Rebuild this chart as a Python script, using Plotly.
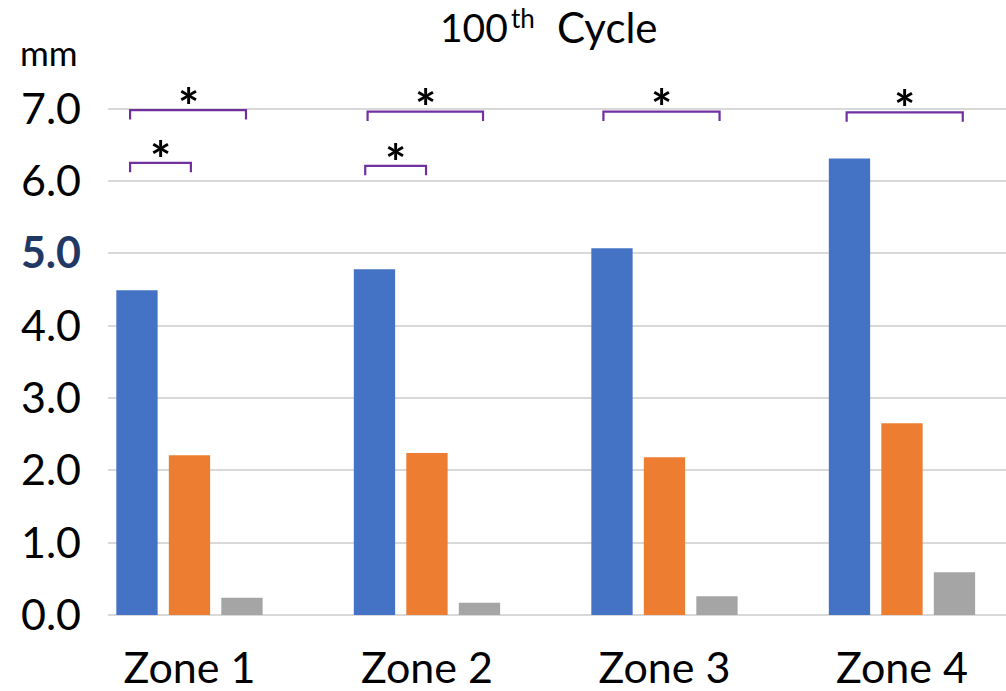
import plotly.graph_objects as go

zones = ["Zone 1", "Zone 2", "Zone 3", "Zone 4"]
series_a = [4.49, 4.78, 5.07, 6.31]   # blue
series_b = [2.21, 2.24, 2.18, 2.65]   # orange
series_c = [0.24, 0.17, 0.26, 0.59]   # gray
y_ticks = [0, 1, 2, 3, 4, 5, 6, 7]
y_ticktext = ["0.0", "1.0", "2.0", "3.0", "4.0",
              "<b><span style='color:#1F3864'>5.0</span></b>", "6.0", "7.0"]

# significance brackets: zone index, left offset, right offset, level (mm)
br_zone = [0, 0, 1, 1, 2, 3]
br_x0 = [-0.25, -0.25, -0.25, -0.26, -0.257, -0.233]
br_x1 = [0.238, 0.006, 0.236, -0.004, 0.232, 0.256]
br_y = [6.98, 6.25, 6.96, 6.21, 6.96, 6.95]
br_label = ["*", "*", "*", "*", "*", "*"]

title_main = "100"
title_sup = "th"
title_rest = "Cycle"

xs = list(range(len(zones)))
colors = ["#4472C4", "#ED7D31", "#A5A5A5"]

fig = go.Figure()
for vals, col in zip([series_a, series_b, series_c], colors):
    fig.add_trace(go.Bar(x=xs, y=vals, marker=dict(color=col, line=dict(width=0)),
                         showlegend=False, hoverinfo="skip"))

drop = 0.13
for z, a, b, lv, lab in zip(br_zone, br_x0, br_x1, br_y, br_label):
    fig.add_trace(go.Scatter(x=[z + a, z + a, z + b, z + b],
                             y=[lv - drop, lv, lv, lv - drop],
                             mode="lines", line=dict(color="#7030A0", width=2.2),
                             showlegend=False, hoverinfo="skip"))
    fig.add_annotation(x=z + (a + b) / 2, y=lv + 0.06, text="<b>" + lab + "</b>",
                       showarrow=False, xanchor="center", yanchor="middle",
                       font=dict(family="Lato", size=50, color="black"))

# title pieces (superscript drawn as its own smaller text)
fig.add_annotation(xref="paper", yref="paper", x=0.4477, y=1.0, yshift=60,
                   text=title_main, showarrow=False, xanchor="right", yanchor="middle",
                   font=dict(family="Lato", size=39, color="black"))
fig.add_annotation(xref="paper", yref="paper", x=0.4465, y=1.0, yshift=69,
                   text=title_sup, showarrow=False, xanchor="left", yanchor="middle",
                   font=dict(family="Lato", size=26, color="black"))
fig.add_annotation(xref="paper", yref="paper", x=0.4978, y=1.0, yshift=60,
                   text=title_rest, showarrow=False, xanchor="left", yanchor="middle",
                   font=dict(family="Lato", size=42, color="black"))
fig.add_annotation(xref="paper", yref="paper", x=-0.0657, y=1.0, yshift=35,
                   text="mm", showarrow=False, xanchor="center", yanchor="middle",
                   font=dict(family="Lato", size=35, color="black"))

fig.update_layout(
    width=1006, height=691,
    margin=dict(l=108, r=0, t=87, b=76),
    paper_bgcolor="white", plot_bgcolor="white",
    barmode="group", bargap=0.337, bargroupgap=0.213,
    font=dict(family="Lato", color="black"),
    xaxis=dict(range=[-0.343, 3.438], tickvals=xs, ticktext=zones,
               showgrid=False, zeroline=False, showline=False,
               tickfont=dict(size=43), ticks="", ticklabelstandoff=24),
    yaxis=dict(range=[0, 7.3], tickvals=y_ticks, ticktext=y_ticktext,
               showgrid=True, gridcolor="#D9D9D9", gridwidth=1.5,
               zeroline=True, zerolinecolor="#D9D9D9", zerolinewidth=1.5,
               showline=False, ticks="", tickfont=dict(size=43),
               ticklabelstandoff=26),
)

fig.write_html("out.html", config={"displayModeBar": False},
               post_script="document.body.style.margin='0';document.body.style.overflow='hidden';")
